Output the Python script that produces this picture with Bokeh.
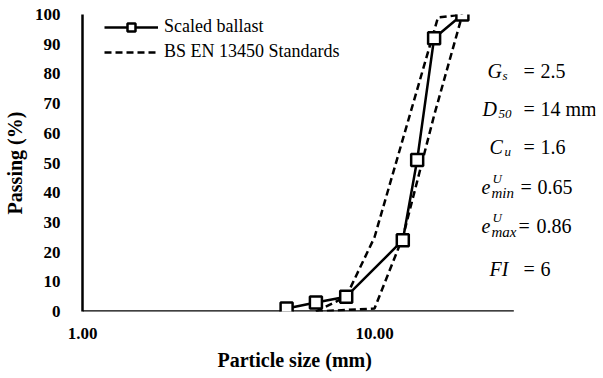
from bokeh.plotting import figure
from bokeh.models import (Range1d, FixedTicker, PrintfTickFormatter, Legend, LegendItem, Label, Title)
from bokeh.embed import file_html
from bokeh.resources import INLINE

# ---- data ----
size_scaled = [5.0, 6.3, 8.0, 12.5, 14.0, 16.0, 20.0]
pass_scaled = [1, 3, 5, 24, 51, 92, 100]

upper_size = [6.3, 8.0, 10.0, 16.5, 20.0]
upper_pass = [0, 5, 25, 99, 100]

lower_size = [6.3, 10.0, 12.5, 16.0, 20.0]
lower_pass = [0, 1, 25, 66, 100]

x_ticks = [1, 10]
y_ticks = [0, 10, 20, 30, 40, 50, 60, 70, 80, 90, 100]
x_axis_end = 30

SERIF = "Liberation Serif"

FL, FT, FB, FR = 77, 14, 311, 590   # frame edges in canvas px
W, H = 603, 378
FW, FH = FR - FL, FB - FT
decade = 292.0
x_max = 10 ** (FW / decade)

p = figure(frame_width=FW, frame_height=FH, x_axis_type="log", output_backend="svg",
           toolbar_location=None, x_range=Range1d(1, x_max), y_range=Range1d(0, 100),
           min_border_left=FL, min_border_right=W - FR, min_border_top=FT,
           min_border_bottom=H - FB)
p.outline_line_color = None
p.xgrid.visible = False
p.ygrid.visible = False
p.background_fill_color = "white"
p.border_fill_color = "white"

# axes
xa = p.xaxis[0]
xa.ticker = FixedTicker(ticks=x_ticks)
xa.formatter = PrintfTickFormatter(format="%.2f")
xa.axis_line_color = None
xa.major_tick_line_color = None
xa.minor_tick_line_color = None
xa.major_label_text_font = SERIF
xa.major_label_text_font_style = "bold"
xa.major_label_text_font_size = "17px"
xa.major_label_text_color = "black"
xa.major_label_standoff = 10

ya = p.yaxis[0]
ya.ticker = FixedTicker(ticks=y_ticks)
ya.axis_line_color = "black"
ya.axis_line_width = 2.5
ya.major_tick_line_color = None
ya.minor_tick_line_color = None
ya.major_label_text_font = SERIF
ya.major_label_text_font_style = "bold"
ya.major_label_text_font_size = "17px"
ya.major_label_text_color = "black"
ya.major_label_standoff = 16
ya.axis_label = "Passing (%)"
ya.axis_label_text_font = SERIF
ya.axis_label_text_font_style = "bold"
ya.axis_label_text_font_size = "20px"
ya.axis_label_text_color = "black"
ya.axis_label_standoff = 6

# x-axis title, centred under the drawn axis line (1 .. 30 mm)
xtitle = Title(text="Particle size (mm)", align="left", offset=135,
               text_font=SERIF, text_font_style="bold", text_font_size="20px",
               text_color="black", standoff=11)
p.add_layout(xtitle, "below")

# x axis line (ends at 30 mm as in the reference)
p.line([1, x_axis_end], [0, 0], line_color="black", line_width=2.5)

# standards envelopes
r_up = p.line(upper_size, upper_pass, line_color="black", line_width=2.5, line_dash="7 4")
r_lo = p.line(lower_size, lower_pass, line_color="black", line_width=2.5, line_dash="7 4")

# scaled ballast
r_line = p.line(size_scaled, pass_scaled, line_color="black", line_width=2.5)
r_mark = p.scatter(size_scaled, pass_scaled, marker="square", size=12,
                   line_color="black", line_width=2.5, fill_color="white")

legend = Legend(items=[LegendItem(label="Scaled ballast", renderers=[r_line, r_mark]),
                       LegendItem(label="BS EN 13450 Standards", renderers=[r_up])],
                location=(22, FH - 48), orientation="vertical",
                background_fill_alpha=0, border_line_color=None,
                padding=0, margin=0, spacing=4, glyph_width=54, glyph_height=20,
                label_height=20, label_standoff=6,
                label_text_font=SERIF, label_text_font_size="18px",
                label_text_color="black")
p.add_layout(legend)


def lab(text, px, py, size=20, style="italic", align="left"):
    p.add_layout(Label(x=px - FL, y=FB - py, x_units="screen", y_units="screen",
                       text=text, text_font=SERIF, text_font_size=f"{size}px",
                       text_font_style=style, text_align=align,
                       text_baseline="middle", text_color="black"))


rows = [70, 108, 146, 186, 225, 268]
# G_s
lab("G", 482, rows[0])
lab("s", 497, rows[0] + 5, size=13)
lab("=", 518, rows[0], style="normal")
lab("2.5", 535, rows[0], style="normal")
# D_50
lab("D", 477, rows[1])
lab("50", 493, rows[1] + 5, size=13)
lab("=", 518, rows[1], style="normal")
lab("14 mm", 535, rows[1], style="normal")
# C_u
lab("C", 484, rows[2])
lab("u", 499, rows[2] + 5, size=13)
lab("=", 518, rows[2], style="normal")
lab("1.6", 535, rows[2], style="normal")
# e^U_min
lab("e", 476, rows[3])
lab("U", 487, rows[3] - 8, size=13)
lab("min", 486, rows[3] + 6, size=15)
lab("=", 515, rows[3], style="normal")
lab("0.65", 532, rows[3], style="normal")
# e^U_max
lab("e", 476, rows[4])
lab("U", 487, rows[4] - 8, size=13)
lab("max", 486, rows[4] + 6, size=15)
lab("=", 513, rows[4], style="normal")
lab("0.86", 531, rows[4], style="normal")
# FI
lab("FI", 484, rows[5])
lab("=", 518, rows[5], style="normal")
lab("6", 535, rows[5], style="normal")

open("out.html", "w").write(file_html(p, INLINE))
